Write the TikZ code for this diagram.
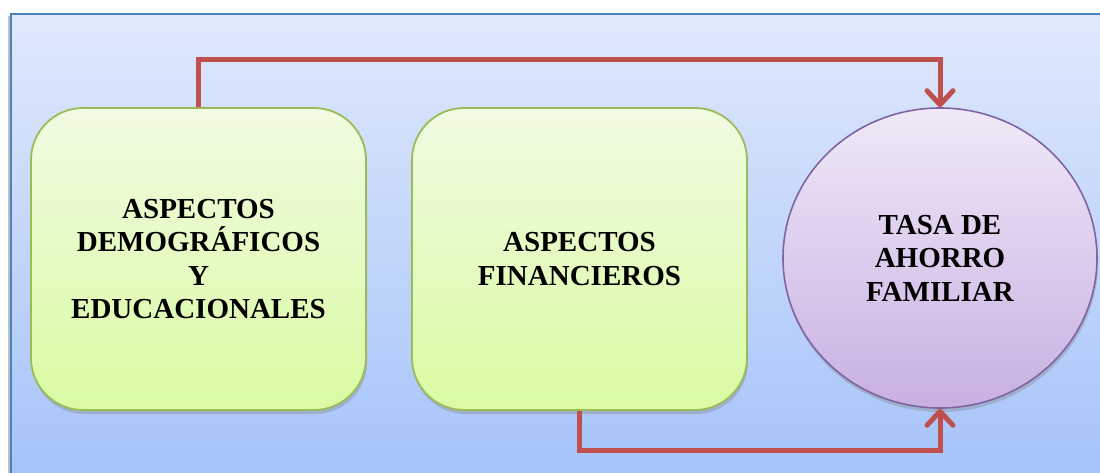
\documentclass[tikz,border=0pt]{standalone}
\usepackage{fontspec}
\setmainfont{Liberation Serif}
\usetikzlibrary{arrows.meta,shapes.geometric,shadows}
\definecolor{panelTop}{HTML}{DFE9FB}
\definecolor{panelBot}{HTML}{A4C2FA}
\definecolor{panelLine}{HTML}{4F81BD}
\definecolor{boxTop}{HTML}{F1FBE2}
\definecolor{boxBot}{HTML}{D9FBA2}
\definecolor{boxLine}{HTML}{9BBB59}
\definecolor{ovTop}{HTML}{F0E9F8}
\definecolor{ovBot}{HTML}{C8B0E2}
\definecolor{ovLine}{HTML}{8064A2}
\definecolor{arrRed}{HTML}{C0504D}
\tikzset{
  greenbox/.style={draw=boxLine, line width=1.8pt, rounded corners=52pt,
    top color=boxTop, bottom color=boxBot, minimum width=335pt, minimum height=302pt,
    align=center, font=\fontsize{29}{33.5}\selectfont\bfseries,
    drop shadow={opacity=0.35, shadow xshift=1pt, shadow yshift=-4pt}},
  ovalnode/.style={ellipse, draw=ovLine, line width=1.6pt,
    top color=ovTop, bottom color=ovBot, minimum width=314pt, minimum height=300pt,
    align=center, font=\fontsize{29}{33.5}\selectfont\bfseries,
    drop shadow={opacity=0.35, shadow xshift=1pt, shadow yshift=-4pt}},
  conn/.style={draw=arrRed, line width=5pt,
    -{Straight Barb[length=14pt,width=26pt,line width=5pt,round]}}
}
\begin{document}
\begin{tikzpicture}[x=1pt,y=-1pt]
\useasboundingbox (0,0) rectangle (1100,472);
\clip (0,0) rectangle (1100,472);
\fill[white] (0,0) rectangle (1100,472);
\fill[black!25] (8,16) rectangle (1120,490);
\draw[panelLine, line width=1.3pt, top color=panelTop, bottom color=panelBot] (11,14) rectangle (1120,490);
\node[greenbox] (b1) at (198.5,259) {ASPECTOS\\DEMOGRÁFICOS\\Y\\EDUCACIONALES};
\node[greenbox] (b2) at (579.5,259) {ASPECTOS\\FINANCIEROS};
\node[ovalnode] (c) at (940,258) {TASA DE\\AHORRO\\FAMILIAR};
\draw[conn] (b1.north) -- ++(0,-48) -| (c.north);
\draw[conn] (b2.south) -- ++(0,40) -| (c.south);
\end{tikzpicture}
\end{document}
